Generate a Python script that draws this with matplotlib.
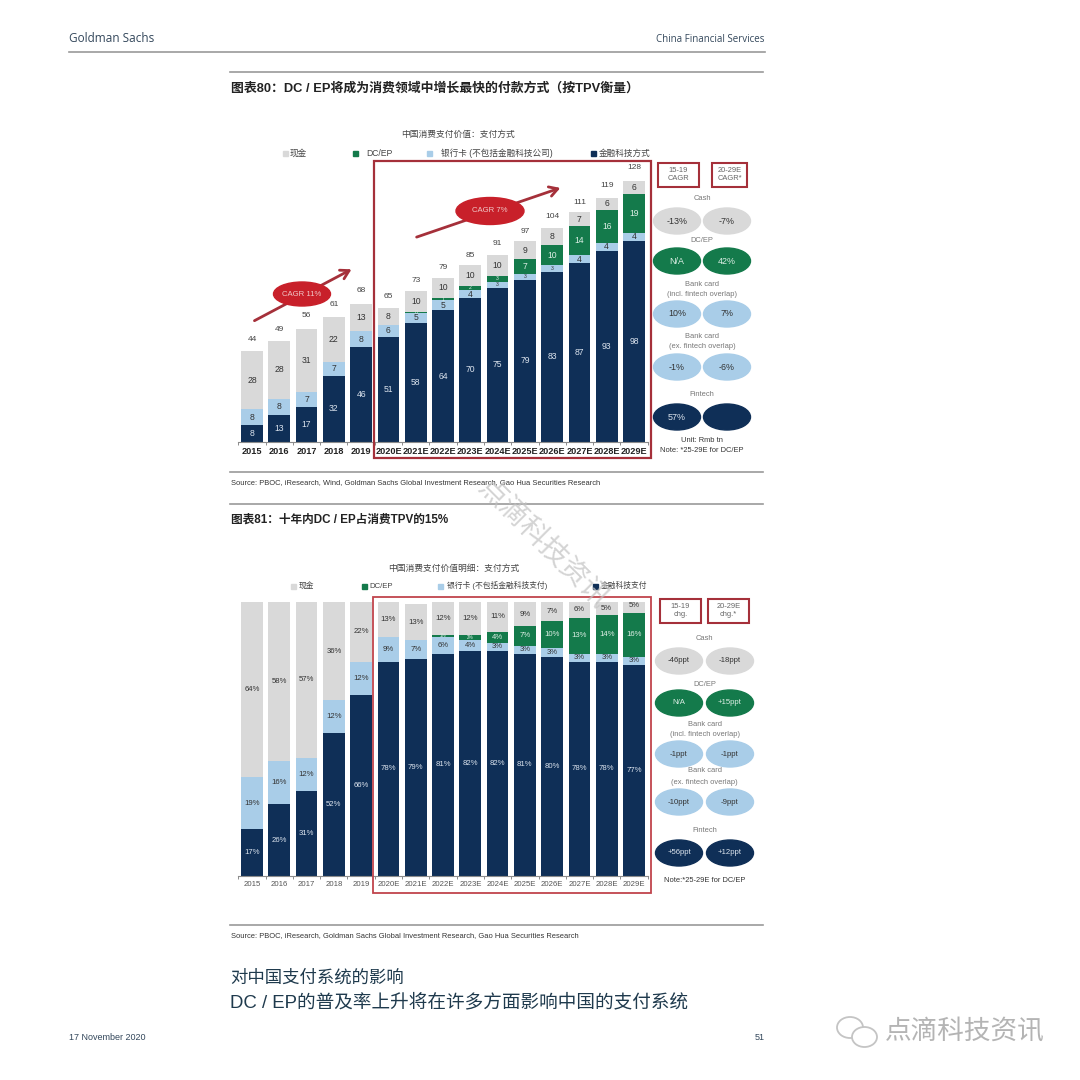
import matplotlib
matplotlib.use('Agg')
import matplotlib.pyplot as plt
from matplotlib.patches import Ellipse, Rectangle

plt.rcParams['font.family'] = ['Liberation Sans', 'Noto Sans CJK SC', 'DejaVu Sans']

years = ['2015', '2016', '2017', '2018', '2019', '2020E', '2021E', '2022E',
         '2023E', '2024E', '2025E', '2026E', '2027E', '2028E', '2029E']

# chart 80, Rmb tn
fintech_tpv = [8, 13, 17, 32, 46, 51, 58, 64, 70, 75, 79, 83, 87, 93, 98]
bank_tpv = [8, 8, 7, 7, 8, 6, 5, 5, 4, 3, 3, 3, 4, 4, 4]
dcep_tpv = [0, 0, 0, 0, 0, 0, 0.3, 1, 2, 3, 7, 10, 14, 16, 19]
cash_tpv = [28, 28, 31, 22, 13, 8, 10, 10, 10, 10, 9, 8, 7, 6, 6]
total_tpv = [44, 49, 56, 61, 68, 65, 73, 79, 85, 91, 97, 104, 111, 119, 128]

# chart 81, share in %
fintech_pct = [17, 26, 31, 52, 66, 78, 79, 81, 82, 82, 81, 80, 78, 78, 77]
bank_pct = [19, 16, 12, 12, 12, 9, 7, 6, 4, 3, 3, 3, 3, 3, 3]
dcep_pct = [0, 0, 0, 0, 0, 0, 0, 1, 2, 4, 7, 10, 13, 14, 16]
cash_pct = [64, 58, 57, 36, 22, 13, 13, 12, 12, 11, 9, 7, 6, 5, 5]

panel_80 = [('-13%', '-7%'), ('N/A', '42%'), ('10%', '7%'), ('-1%', '-6%'), ('57%', '')]
panel_81 = [('-46ppt', '-18ppt'), ('N/A', '+15ppt'), ('-1ppt', '-1ppt'),
            ('-10ppt', '-9ppt'), ('+56ppt', '+12ppt')]

NAVY = '#0F2F57'
GREEN = '#147A4B'
BLUE = '#A9CDE8'
GREY = '#D9D9D9'
RED = '#A5303A'
TEXT = '#444444'
panel_colors = [GREY, GREEN, BLUE, BLUE, NAVY]
panel_text = ['#333333', '#DDEEE5', '#333333', '#333333', '#DDE5EE']

fig = plt.figure(figsize=(10.8, 10.8), dpi=100)
page = fig.add_axes([0, 0, 1, 1])
page.set_xlim(0, 1080)
page.set_ylim(1080, 0)
page.axis('off')


def put(x, y, s, size=6, color=TEXT, ha='left', weight='normal', **kw):
    page.text(x, y, s, fontsize=size, color=color, ha=ha, va='center', weight=weight, **kw)


def rule(x0, x1, y, color='#9A9A9A', lw=1.2):
    page.plot([x0, x1], [y, y], color=color, lw=lw)


def bars(top, bottom, ymax, series, fontsize):
    # axes placed in page pixels, ticks fall between the bars
    ax = fig.add_axes([238.35 / 1080, 1 - bottom / 1080, 409.3 / 1080, (bottom - top) / 1080])
    ax.patch.set_alpha(0)
    ax.set_xlim(-0.5, 14.5)
    ax.set_ylim(0, ymax)
    for s in ['top', 'left', 'right']:
        ax.spines[s].set_visible(False)
    ax.spines['bottom'].set_color('#8C8C8C')
    ax.set_yticks([])
    ax.set_xticks([i - 0.5 for i in range(16)])
    ax.set_xticklabels([])
    ax.tick_params(axis='x', length=2.5, width=0.7, color='#8C8C8C')
    pos = range(len(years))
    base = [0] * len(years)
    for vals, col, tc, suffix in series:
        ax.bar(pos, vals, 0.8, bottom=base, color=col)
        for i, v in enumerate(vals):
            if v > 0:
                # thin slices get a smaller label so neighbours do not collide
                fs = fontsize if v / ymax > 0.025 else fontsize * 0.6
                ax.text(i, base[i] + v / 2, f'{v:.0f}{suffix}', ha='center', va='center',
                        fontsize=fs, color=tc)
        base = [b + v for b, v in zip(base, vals)]
    return ax, base


# page furniture
put(69, 38, 'Goldman Sachs', size=8.5, color='#33475B', family=['Open Sans', 'Noto Sans CJK SC'])
put(764, 40, 'China Financial Services', size=7, color='#33475B', ha='right',
    family=['Open Sans', 'Noto Sans CJK SC'])
rule(69, 765, 52)
rule(230, 763, 72)
put(231, 88, '图表80：DC / EP将成为消费领域中增长最快的付款方式（按TPV衡量）', size=9.3, color='#222222', weight='bold')
rule(230, 763, 472)
put(231, 483, 'Source: PBOC, iResearch, Wind, Goldman Sachs Global Investment Research, Gao Hua Securities Research',
    size=5.45, color='#333333')
rule(230, 763, 504)
put(231, 520, '图表81：十年内DC / EP占消费TPV的15%', size=8.4, color='#222222', weight='bold')
rule(230, 763, 925)
put(231, 936, 'Source: PBOC, iResearch, Goldman Sachs Global Investment Research, Gao Hua Securities Research',
    size=5.45, color='#333333')
put(230, 978, '对中国支付系统的影响', size=12.5, color='#1F3A4D')
put(230, 1002, 'DC / EP的普及率上升将在许多方面影响中国的支付系统', size=13.4, color='#1F3A4D')
put(69, 1038, '17 November 2020', size=6.5, color='#33475B')
put(765, 1038, '51', size=6.5, color='#33475B', ha='right')
put(885, 1033, '点滴科技资讯', size=19.2, color='#B4B4B4')
page.add_patch(Ellipse((850, 1027.5), 26, 21, fc='none', ec='#C4C4C4', lw=1.3))
page.add_patch(Ellipse((864.5, 1037), 25, 20, fc='white', ec='#C4C4C4', lw=1.3))

# chart 80
put(458.5, 134, '中国消费支付价值：支付方式', size=6.3, ha='center')
legend_80 = [(285, 290, '现金', GREY), (355, 366, 'DC/EP', GREEN),
             (429, 441, '银行卡 (不包括金融科技公司)', BLUE), (593, 599, '金融科技方式', NAVY)]
for sx, tx, label, col in legend_80:
    page.add_patch(Rectangle((sx - 2.5, 150.5), 5, 5, color=col))
    put(tx, 153, label, size=6.2)

series_80 = [(fintech_tpv, NAVY, '#DCE4EE', ''), (bank_tpv, BLUE, '#333333', ''),
             (dcep_tpv, GREEN, '#DDEEE5', ''), (cash_tpv, GREY, '#333333', '')]
ax1, tops = bars(160, 441.7, 137.4, series_80, 6.2)
for i, t in enumerate(total_tpv):
    ax1.annotate(str(t), (i, t), xytext=(0, 8.5), textcoords='offset points',
                 ha='center', va='center', fontsize=6, color=TEXT)
for i, y in enumerate(years):
    put(252 + i * 27.3, 452, y, size=6.6, color='#222222', ha='center', weight='bold')

# chart 81
put(454, 568, '中国消费支付价值明细：支付方式', size=6.3, ha='center')
legend_81 = [(293, 299, '现金', GREY), (364, 369, 'DC/EP', GREEN),
             (440, 447, '银行卡 (不包括金融科技支付)', BLUE), (595, 601, '金融科技支付', NAVY)]
for sx, tx, label, col in legend_81:
    page.add_patch(Rectangle((sx - 2.5, 583.5), 5, 5, color=col))
    put(tx, 586, label, size=5.6)

series_81 = [(fintech_pct, NAVY, '#DCE4EE', '%'), (bank_pct, BLUE, '#333333', '%'),
             (dcep_pct, GREEN, '#DDEEE5', '%'), (cash_pct, GREY, '#333333', '%')]
ax2, _ = bars(601.7, 875.7, 100, series_81, 5.6)
for i, y in enumerate(years):
    put(252 + i * 27.3, 885, y, size=5.6, color='#555555', ha='center')

# drawn last so they sit above the bar axes
over = fig.add_axes([0, 0, 1, 1])
over.set_xlim(0, 1080)
over.set_ylim(1080, 0)
over.axis('off')
over.patch.set_alpha(0)

over.add_patch(Rectangle((374, 160.7), 277, 297.3, fc='none', ec=RED, lw=1.6))
over.add_patch(Rectangle((373, 597), 278, 296, fc='none', ec='#C0444C', lw=1.3))

for start, end in [((252, 322), (354, 268)), ((414, 238), (563, 187))]:
    over.annotate('', xy=end, xytext=start,
                  arrowprops=dict(arrowstyle='->,head_width=0.35,head_length=0.6', color=RED, lw=2))
for (cx, cy, w, h, label) in [(302, 294, 57, 24, 'CAGR 11%'), (490, 211, 68, 27, 'CAGR 7%')]:
    over.add_patch(Ellipse((cx, cy), w, h, color='#C8202A', zorder=3))
    over.text(cx, cy, label, fontsize=5.6, color='#F0C8C8', ha='center', va='center', zorder=4)


def side_panel(boxes, xs, ys, vals, heads, notes, fontsize):
    for (x0, x1, y0, y1, label) in boxes:
        over.add_patch(Rectangle((x0, y0), x1 - x0, y1 - y0, fc='white', ec=RED, lw=1.5))
        over.text((x0 + x1) / 2, (y0 + y1) / 2, label, fontsize=5.4, color='#666666',
                  ha='center', va='center')
    for y, pair, col, tc in zip(ys, vals, panel_colors, panel_text):
        for x, label in zip(xs, pair):
            over.add_patch(Ellipse((x, y), 47, 26, color=col))
            over.text(x, y, label, fontsize=fontsize, color=tc, ha='center', va='center')
    for y, label in heads:
        over.text((xs[0] + xs[1]) / 2, y, label, fontsize=5.4, color='#777777', ha='center', va='center')
    for y, label in notes:
        over.text((xs[0] + xs[1]) / 2, y, label, fontsize=5.4, color='#333333', ha='center', va='center')


side_panel([(658, 699, 163, 187, '15-19\nCAGR'), (712, 747, 163, 187, '20-29E\nCAGR*')],
           (677, 727), (221, 261, 314, 367, 417), panel_80,
           [(198, 'Cash'), (240, 'DC/EP'), (284, 'Bank card'), (294, '(incl. fintech overlap)'),
            (337, 'Bank card'), (347, '(ex. fintech overlap)'), (395, 'Fintech')],
           [(441, 'Unit: Rmb tn'), (450, 'Note: *25-29E for DC/EP')], 6.4)
side_panel([(660, 701, 599, 623, '15-19\nchg.'), (708, 749, 599, 623, '20-29E\nchg.*')],
           (679, 730), (661, 703, 754, 802, 853), panel_81,
           [(639, 'Cash'), (684, 'DC/EP'), (725, 'Bank card'), (735, '(incl. fintech overlap)'),
            (771, 'Bank card'), (783, '(ex. fintech overlap)'), (830, 'Fintech')],
           [(881, 'Note:*25-29E for DC/EP')], 5.6)

# watermark across the two charts
over.text(543, 544, '点滴科技资讯', fontsize=20.5, color='#C2C2C2', alpha=0.7, rotation=-45,
          ha='center', va='center', rotation_mode='anchor')

fig.savefig('out.png', dpi=100, facecolor='white')
